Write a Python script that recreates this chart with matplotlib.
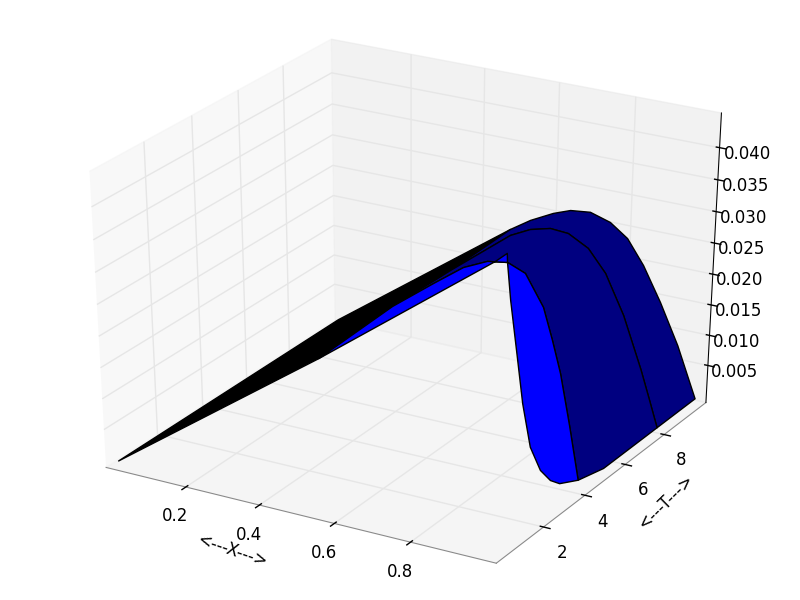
import matplotlib
matplotlib.use('Agg')
import matplotlib.pyplot as plt
import numpy as np

plt.style.use('classic')
plt.rcParams['font.family'] = 'DejaVu Sans'

# left part of the surface, one flat piece
x_left = [[0.0, 0.474], [0.0, 0.4865]]
t_left = [[0.0, 1.27], [10.0, 10.0]]
z_left = [[-0.0003, 0.01976], [-0.0003, 0.02111]]

# right part, one row for each line across the surface
# rows 2 and 3 only bend the bottom edge, they get no line of their own
x_rows = [
    [0.474, 0.890, 0.914, 0.915, 0.919, 0.933, 0.938, 0.949, 0.971, 0.992, 1.0],
    [0.473, 0.582, 0.660, 0.722, 0.774, 0.820, 0.868, 0.893, 0.916, 0.943, 0.980],
    [0.473, 0.596, 0.667, 0.722, 0.768, 0.815, 0.860, 0.896, 0.929, 0.956, 1.0],
    [0.474, 0.611, 0.671, 0.722, 0.766, 0.813, 0.857, 0.898, 0.939, 0.966, 1.0],
    [0.474, 0.628, 0.675, 0.722, 0.764, 0.812, 0.854, 0.900, 0.951, 0.977, 1.0],
    [0.4865, 0.541, 0.602, 0.648, 0.701, 0.755, 0.802, 0.847, 0.896, 0.947, 1.0],
]
t_rows = [
    [1.27, 1.9, 2.0, 2.0, 2.1, 2.2, 2.4, 2.6, 2.7, 2.8, 3.1],
    [4.6, 4.6, 4.6, 4.6, 4.6, 4.6, 4.6, 4.6, 4.6, 4.6, 4.4],
    [5.5, 5.5, 5.5, 5.5, 5.5, 5.5, 5.5, 5.5, 5.5, 5.5, 5.28],
    [6.4, 6.5, 6.5, 6.5, 6.5, 6.5, 6.5, 6.5, 6.5, 6.5, 6.49],
    [7.3, 7.4, 7.5, 7.6, 7.7, 7.8, 7.9, 8.0, 8.0, 8.0, 8.0],
    [10.0, 10.0, 10.0, 10.0, 10.0, 10.0, 10.0, 10.0, 10.0, 10.0, 10.0],
]
z_rows = [
    [0.01976, 0.03863, 0.03993, 0.03859, 0.03273, 0.02397, 0.01637, 0.00913, 0.00547, 0.00390, 0.00274],
    [0.02035, 0.02540, 0.02889, 0.03063, 0.03112, 0.03001, 0.02536, 0.02053, 0.01557, 0.00761, -0.0003],
    [0.0203, 0.0261, 0.0286, 0.0302, 0.0305, 0.0290, 0.0246, 0.0193, 0.0133, 0.0064, -0.0003],
    [0.0202, 0.0268, 0.0287, 0.0297, 0.0296, 0.0279, 0.0239, 0.0180, 0.0110, 0.0052, -0.0003],
    [0.02013, 0.02746, 0.02876, 0.02929, 0.02880, 0.02683, 0.02317, 0.01678, 0.00864, 0.00395, -0.0003],
    [0.02111, 0.02326, 0.02513, 0.02616, 0.02652, 0.02554, 0.02353, 0.01973, 0.01432, 0.00788, -0.0003],
]
# first row, last row and colour of each strip, far strip first
strips = [(4, 5, '#000080'), (1, 4, '#000080'), (0, 1, '#0000ff')]

x_ticks = [0.2, 0.4, 0.6, 0.8]
t_ticks = [2, 4, 6, 8]
z_ticks = [0.005, 0.010, 0.015, 0.020, 0.025, 0.030, 0.035, 0.040]

fig = plt.figure(figsize=(8, 6), dpi=100, facecolor='white')
ax = fig.add_axes([0, 0, 1, 1], projection='3d', computed_zorder=False)
ax.apply_aspect = lambda position=None: None  # old look, cube stretched to the figure
ax.set_box_aspect((1, 1, 1), zoom=0.94675)
ax.view_init(elev=30, azim=-60)

ax.plot_surface(np.array(x_left), np.array(t_left), np.array(z_left),
                rstride=1, cstride=1, color='#000000', edgecolor='k',
                linewidth=1, shade=False, zorder=1)

X = np.array(x_rows)
T = np.array(t_rows)
Z = np.array(z_rows)
for n, (a, b, col) in enumerate(strips):
    ax.plot_surface(X[a:b + 1], T[a:b + 1], Z[a:b + 1], rstride=b - a, cstride=10,
                    color=col, edgecolor='k', linewidth=1,
                    shade=False, zorder=2 + n)

ax.set_xlim(0.0, 1.0, view_margin=1 / 48)
ax.set_ylim(0.0, 10.0, view_margin=1 / 48)
ax.set_zlim(-0.0003, 0.0444, view_margin=1 / 48)
ax.set_xticks(x_ticks)
ax.set_yticks(t_ticks)
ax.set_zticks(z_ticks)
ax.set_zticklabels(['%.3f' % v for v in z_ticks])
ax.xaxis.line.set_color('#888888')
ax.yaxis.line.set_color('#888888')

fig.text(232 / 800, 1 - 551 / 600, '<---X--->', rotation=-18.7, fontsize=12,
         ha='center', va='center', rotation_mode='anchor')
fig.text(666 / 800, 1 - 502 / 600, '<---T--->', rotation=44.5, fontsize=12,
         ha='center', va='center', rotation_mode='anchor')

fig.savefig('out.png', dpi=100)
